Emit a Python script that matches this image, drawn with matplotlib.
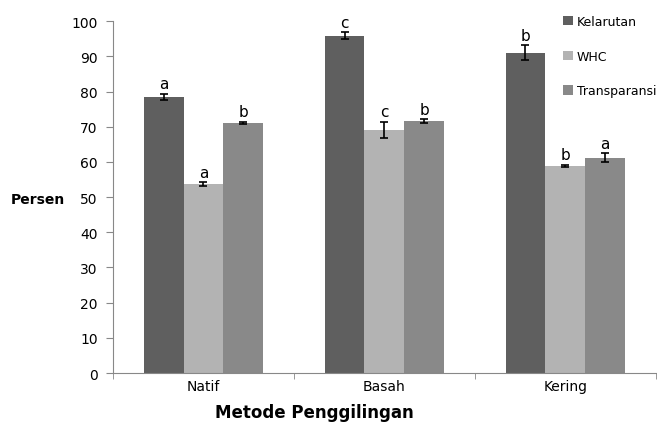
import matplotlib
matplotlib.use("Agg")
import matplotlib.pyplot as plt
import numpy as np

# ── Data ──────────────────────────────────────────────────────────────────────
categories = ["Natif", "Basah", "Kering"]
series = ["Kelarutan", "WHC", "Transparansi"]
kelarutan = [78.4, 95.9, 91.0]
whc = [53.7, 69.1, 58.8]
transparansi = [71.1, 71.6, 61.2]
kelarutan_err = [0.9, 0.9, 2.1]
whc_err = [0.5, 2.2, 0.3]
transparansi_err = [0.2, 0.5, 1.2]
kelarutan_sig = ["a", "c", "b"]
whc_sig = ["a", "c", "b"]
transparansi_sig = ["b", "b", "a"]

COLOURS = ["#5f5f5f", "#b3b3b3", "#898989"]

values = [kelarutan, whc, transparansi]
errors = [kelarutan_err, whc_err, transparansi_err]
letters = [kelarutan_sig, whc_sig, transparansi_sig]

fig = plt.figure(figsize=(6.57, 4.27), dpi=100)
ax = fig.add_axes([0.172, 0.124, 0.826, 0.824])

x = np.arange(len(categories))
width = 0.22
for i, (vals, errs, sig, name) in enumerate(zip(values, errors, letters, series)):
    pos = x + (i - 1) * width
    ax.bar(pos, vals, width, color=COLOURS[i], label=name, zorder=2)
    ax.errorbar(pos, vals, yerr=errs, fmt="none", ecolor="black",
                elinewidth=1.2, capsize=3, capthick=1.2, zorder=3)
    for p, v, e, s in zip(pos, vals, errs, sig):
        ax.text(p, v + e + 0.8, s, ha="center", va="bottom", fontsize=11)

ax.set_ylim(0, 100)
ax.set_xlim(-0.5, 2.5)
ax.set_yticks(range(0, 101, 10))
ax.set_xticks(x)
ax.set_xticklabels(categories)
ax.set_xticks([-0.5, 0.5, 1.5, 2.5], minor=True)
ax.tick_params(axis="x", which="major", length=0, labelsize=10, pad=4)
ax.tick_params(axis="x", which="minor", length=4, color="#888888", direction="out")
ax.tick_params(axis="y", length=5, color="#888888", labelsize=10, pad=6)

for side in ["top", "right"]:
    ax.spines[side].set_visible(False)
for side in ["left", "bottom"]:
    ax.spines[side].set_color("#888888")

fig.text(0.016, 0.532, "Persen", fontsize=10, fontweight="bold",
         ha="left", va="center")
fig.text(0.478, 0.033, "Metode Penggilingan", fontsize=12, fontweight="bold",
         ha="center", va="center")

fig.legend(loc="upper left", bbox_to_anchor=(0.848, 0.978), frameon=False,
           fontsize=9, handlelength=0.75, handleheight=0.75, handletextpad=0.3,
           labelspacing=1.75, borderpad=0)

fig.savefig("out.png", dpi=100)
